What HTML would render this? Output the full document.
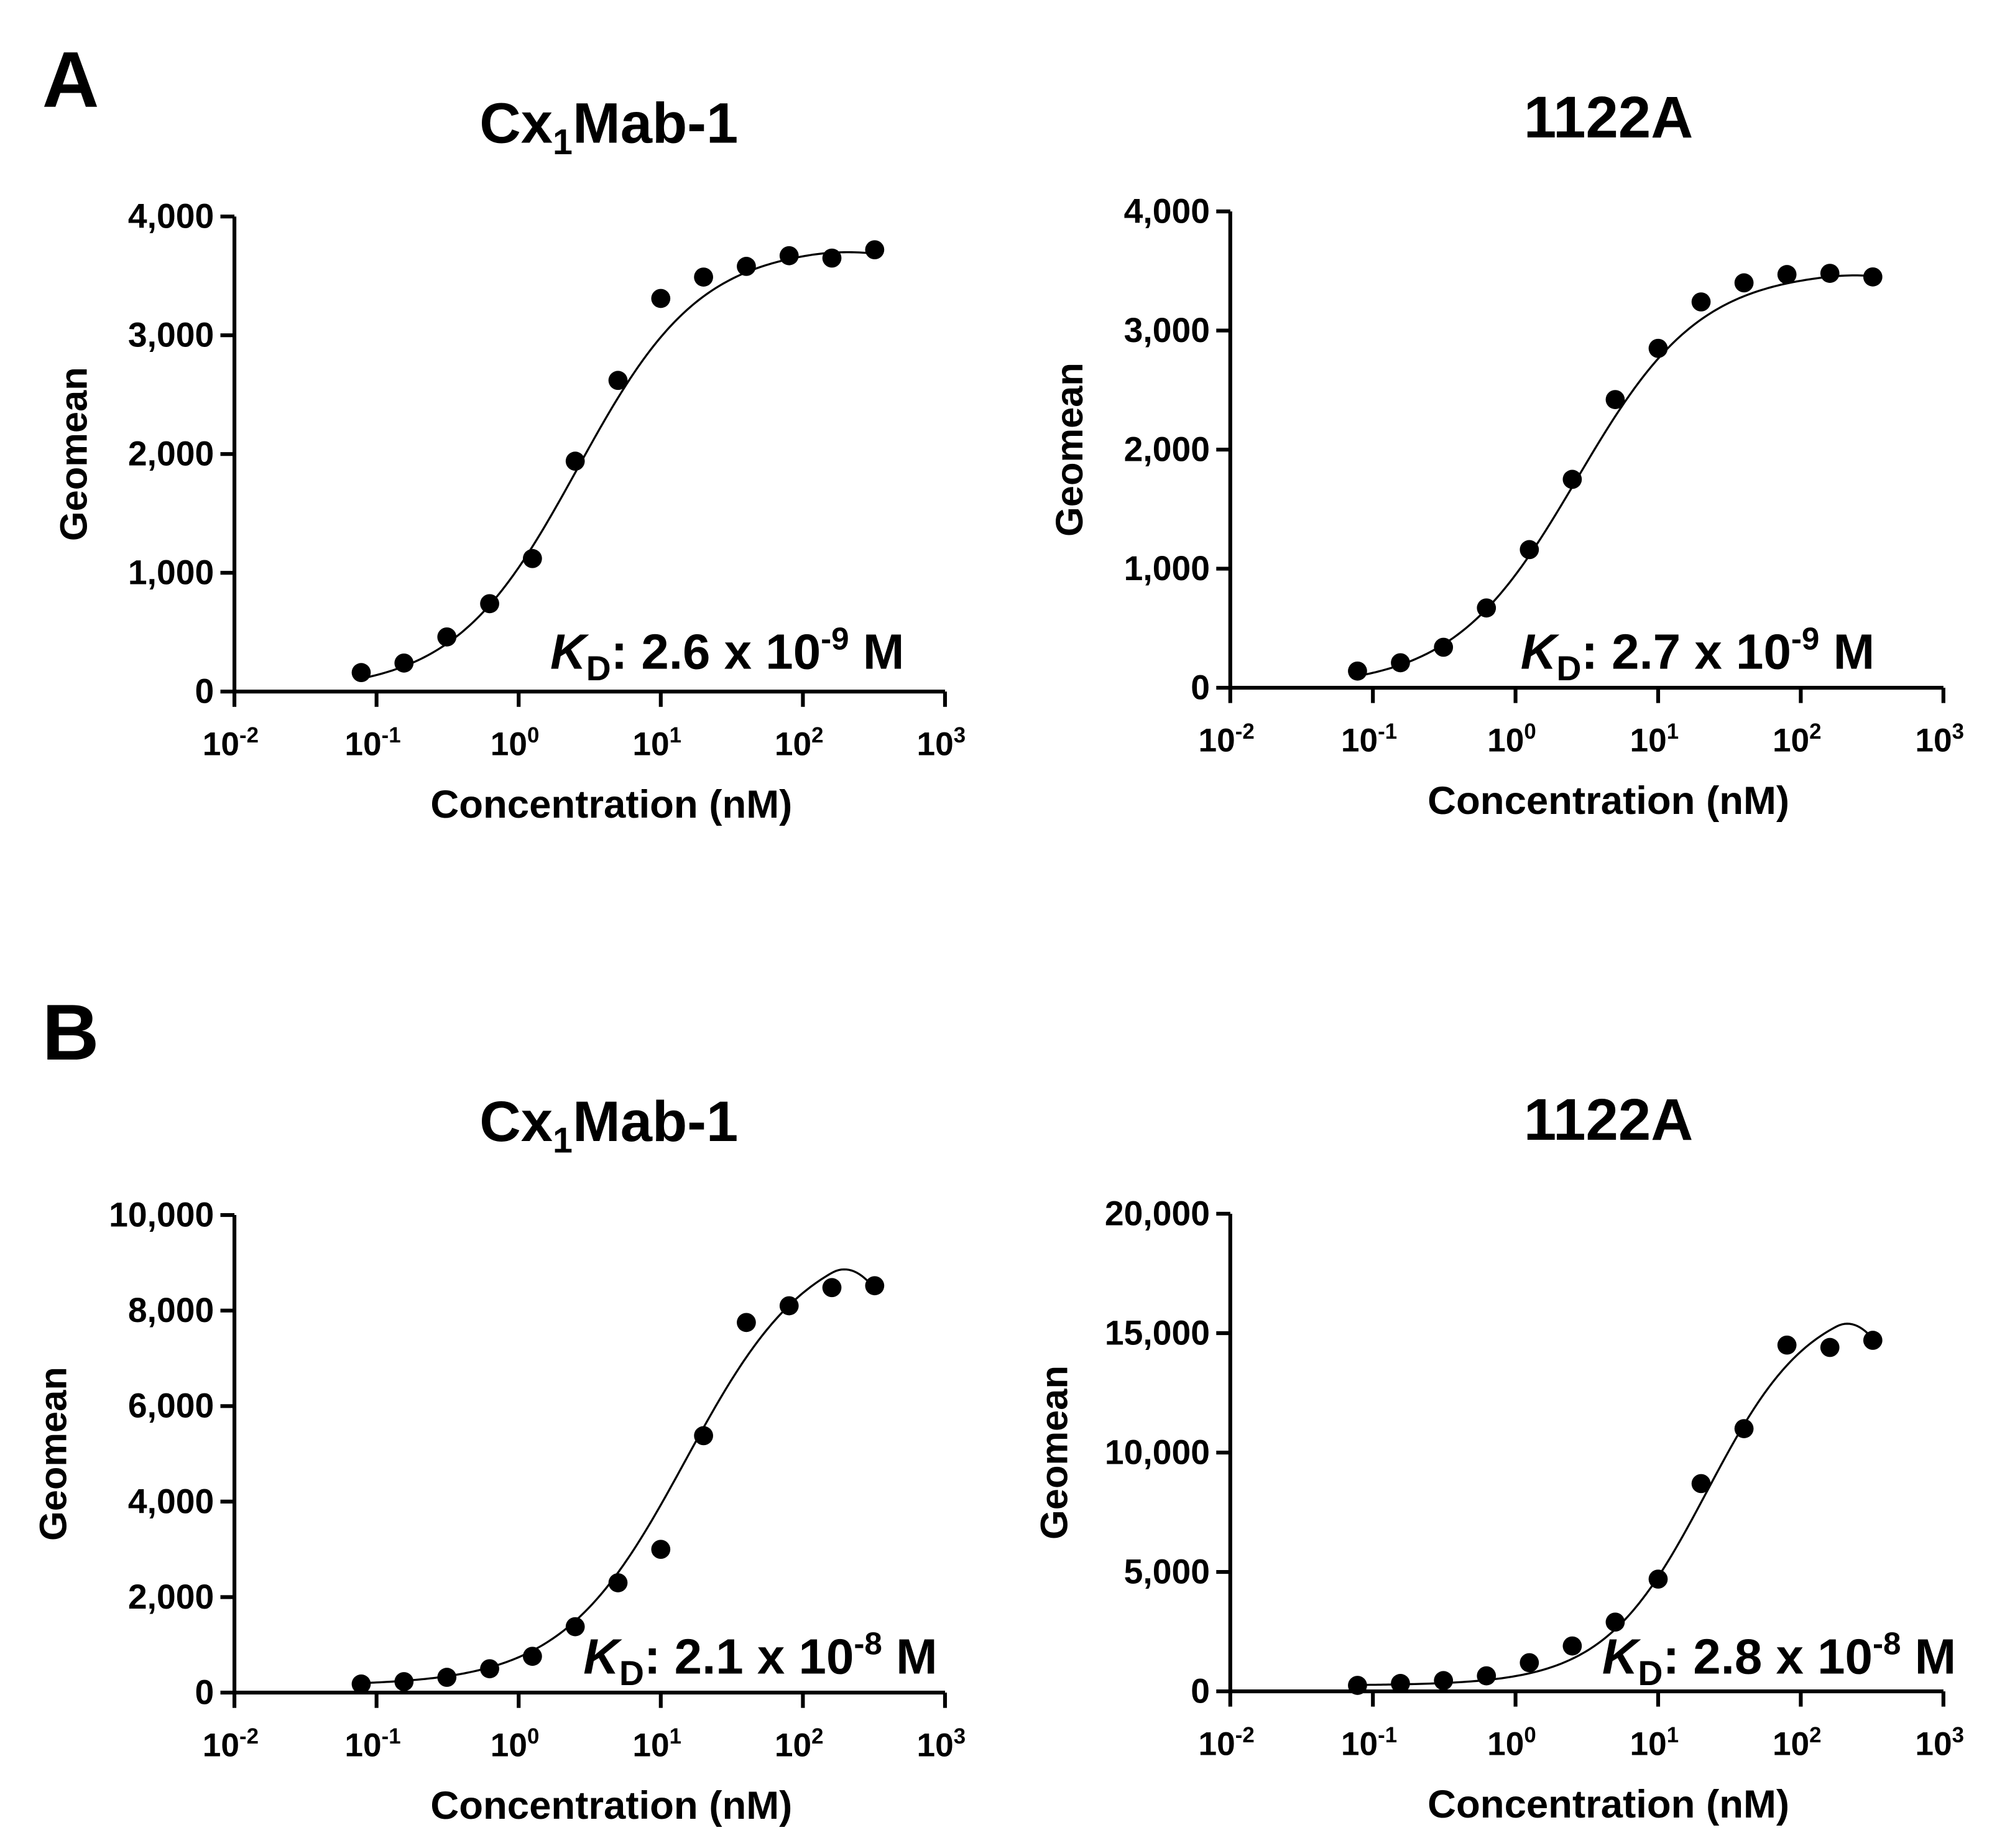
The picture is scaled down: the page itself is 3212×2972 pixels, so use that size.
<!DOCTYPE html>
<html><head><meta charset="utf-8"><style>
html,body{margin:0;padding:0;background:#fff}
svg{display:block}
text{font-family:"Liberation Sans",Arial,sans-serif;font-weight:bold;fill:#000}
</style></head><body>
<svg id="fig" width="3212" height="2972" viewBox="0 0 1568 1451" xmlns="http://www.w3.org/2000/svg">
<text x="33" y="84" font-size="62">A</text>
<text x="33" y="832" font-size="62">B</text>
</svg>
<script>
const concs=[0.078,0.156,0.3125,0.625,1.25,2.5,5,10,20,40,80,160,320];
const xTickExps=[-2,-1,0,1,2,3];
const valsAL=[160,240,460,740,1120,1940,2620,3310,3490,3580,3670,3650,3720];
const valsAR=[140,210,340,670,1160,1750,2420,2850,3240,3400,3470,3480,3450];
const valsBL=[180,230,320,500,760,1380,2300,3000,5380,7750,8100,8480,8520];
const valsBR=[250,330,450,650,1200,1900,2900,4700,8700,11000,14500,14400,14700];
const yTicksA=[0,1000,2000,3000,4000];
const yTicksBL=[0,2000,4000,6000,8000,10000];
const yTicksBR=[0,5000,10000,15000,20000];
// fit params: bottom, top, ec50, hill, peakLog, drop
const fitAL=[0,3760,2.6,1,2.05,200];
const fitAR=[0,3510,2.7,1,2.2,250];
const fitBL=[150,9600,15,1,2.2,7800];
const fitBR=[250,16500,22,1.2,2.25,17000];

const NS="http://www.w3.org/2000/svg";
const svg=document.getElementById('fig');
function el(tag,attrs,parent){const e=document.createElementNS(NS,tag);for(const k in attrs)e.setAttribute(k,attrs[k]);(parent||svg).appendChild(e);return e;}
function fmt(v){return v.toLocaleString('en-US');}

function panel(cfg){
  const g=el('g',{});
  
  
  const sx=v=>cfg.x0+(Math.log10(v)+2)/5*(cfg.x1-cfg.x0);
  const sy=v=>cfg.y0-(v/cfg.ymax)*(cfg.y0-cfg.ytop);
  const cx=(cfg.x0+cfg.x1)/2;
  const t=el('text',{x:cx+(cfg.titleDx||0),y:cfg.ytop-58,'font-size':cfg.sub?45:46,'text-anchor':'middle'},g);
  
  
  if(cfg.sub){t.appendChild(document.createTextNode('Cx'));const s=el('tspan',{'font-size':28,dy:9},t);s.textContent='1';const r=el('tspan',{dy:-9},t);r.textContent='Mab-1';}
  else t.textContent=cfg.title;
  const ax=el('path',{d:`M${cfg.x0},${cfg.ytop} V${cfg.y0} H${cfg.x1}`,stroke:'#000','stroke-width':3,fill:'none'},g);
  
  
  cfg.yt.forEach(v=>{
    const y=sy(v);
    el('line',{x1:cfg.x0-11,x2:cfg.x0,y1:y,y2:y,stroke:'#000','stroke-width':3},g);
    const l=el('text',{x:cfg.x0-16,y:y+9,'font-size':27,'text-anchor':'end'},g);
    
    
    l.textContent=fmt(v);
  });
  xTickExps.forEach(e=>{
    const x=sx(Math.pow(10,e));
    el('line',{x1:x,x2:x,y1:cfg.y0,y2:cfg.y0+12,stroke:'#000','stroke-width':3},g);
    const l=el('text',{x:x-3,y:cfg.y0+50,'font-size':26,'text-anchor':'middle'},g);
    
    
    l.appendChild(document.createTextNode('10'));
    const s=el('tspan',{'font-size':17,dy:-10},l);s.textContent=String(e);
  });
  const xt=el('text',{x:cx+17,y:cfg.y0+99,'font-size':31,'text-anchor':'middle'},g);
  
  
  xt.textContent='Concentration (nM)';
  const yl=el('text',{x:0,y:0,'font-size':30,'text-anchor':'middle',transform:`translate(${cfg.ylx},${(cfg.ytop+cfg.y0)/2}) rotate(-90)`},g);
  
  
  yl.textContent='Geomean';
  const [b,top,ec,h,pk,dr]=cfg.fit;
  let d='';
  for(let i=0;i<=200;i++){
    const lx=Math.log10(concs[0])+i/200*(Math.log10(concs[concs.length-1])-Math.log10(concs[0]));
    const x=Math.pow(10,lx);
    let y=b+(top-b)/(1+Math.pow(ec/x,h));
    if(lx>pk)y-=dr*(lx-pk)*(lx-pk);
    d+=(i?'L':'M')+sx(x).toFixed(2)+','+sy(y).toFixed(2);
  }
  const c=el('path',{d:d,stroke:'#000','stroke-width':1.6,fill:'none'},g);
  
  
  cfg.vals.forEach((v,i)=>{
    const p=el('circle',{cx:sx(concs[i]),cy:sy(v),r:7.5,fill:'#000'},g);
    
    
  });
  const k=el('text',{x:cfg.kx,y:cfg.ky,'font-size':39},g);
  
  
  const ki=el('tspan',{'font-style':'italic'},k);ki.textContent='K';
  const kd=el('tspan',{'font-size':27,dy:9},k);kd.textContent='D';
  const k2=el('tspan',{dy:-9},k);k2.textContent=': '+cfg.kd+' x 10';
  const k3=el('tspan',{'font-size':25,dy:-15},k);k3.textContent=cfg.kexp;
  const k4=el('tspan',{dy:15},k);k4.textContent=' M';
}
panel({name:'panel-a-cx1mab1',sub:true,x0:184,x1:742,ytop:170,y0:543,ymax:4000,yt:yTicksA,vals:valsAL,fit:fitAL,ylx:68,kx:432,ky:525,kd:'2.6',kexp:'-9',titleDx:15});
panel({name:'panel-a-1122a',title:'1122A',x0:966,x1:1526,ytop:166,y0:540,ymax:4000,yt:yTicksA,vals:valsAR,fit:fitAR,ylx:850,kx:1194,ky:525,kd:'2.7',kexp:'-9',titleDx:17});
panel({name:'panel-b-cx1mab1',sub:true,x0:184,x1:742,ytop:954,y0:1329,ymax:10000,yt:yTicksBL,vals:valsBL,fit:fitBL,ylx:52,kx:458,ky:1314,kd:'2.1',kexp:'-8',titleDx:15});
panel({name:'panel-b-1122a',title:'1122A',x0:966,x1:1526,ytop:953,y0:1328,ymax:20000,yt:yTicksBR,vals:valsBR,fit:fitBR,ylx:838,kx:1258,ky:1314,kd:'2.8',kexp:'-8',titleDx:17});
</script>
</body></html>
